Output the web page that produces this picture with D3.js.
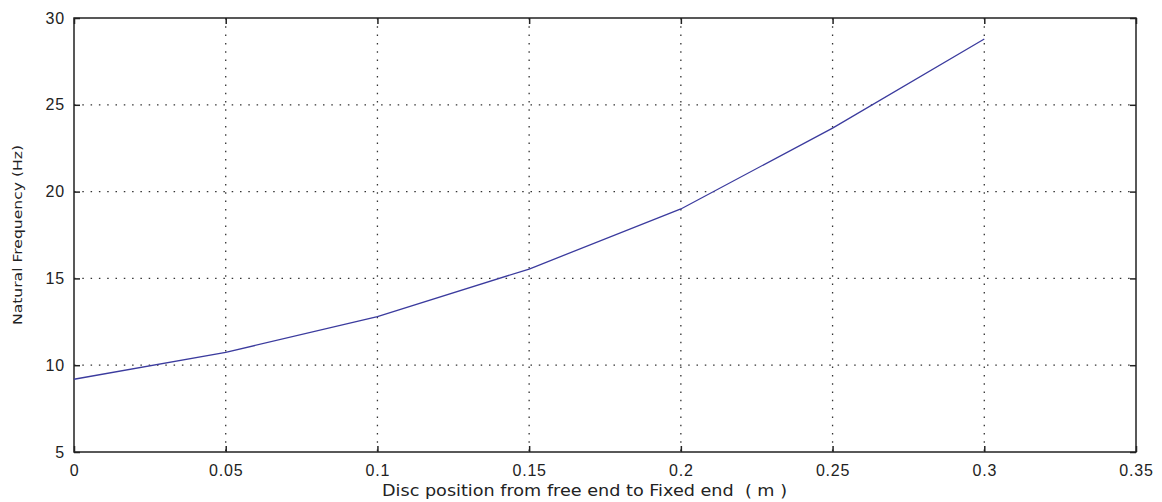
<!DOCTYPE html>
<html><head><meta charset="utf-8">
<script src="https://cdn.jsdelivr.net/npm/d3@7"></script>
<style>body{margin:0;background:#fff}svg{display:block}</style>
</head><body>
<svg id="c" width="1162" height="502"></svg>
<script>
const xPos = [0, 0.05, 0.1, 0.15, 0.2, 0.25, 0.3];
const freq = [9.19, 10.74, 12.8, 15.54, 19.0, 23.66, 28.79];
const xTicks = [0, 0.05, 0.1, 0.15, 0.2, 0.25, 0.3, 0.35];
const yTicks = [5, 10, 15, 20, 25, 30];
const xTitle = "Disc position from free end to Fixed end  ( m )";
const yTitle = "Natural Frequency (Hz)";

const L = 74, R = 1136, T = 18, B = 452;
const svg = d3.select("#c");
const x = d3.scaleLinear().domain([0, 0.35]).range([L, R]);
const y = d3.scaleLinear().domain([5, 30]).range([B, T]);
const font = "'DejaVu Sans', Arial, sans-serif";

// grid
const g = svg.append("g");
g.selectAll(".vg").data(xTicks.filter(d => d > 0 && d < 0.35)).join("line")
  .attr("x1", d => x(d)).attr("x2", d => x(d)).attr("y1", T).attr("y2", B)
  .attr("stroke", "#333").attr("stroke-width", 1.3).attr("stroke-dasharray", "1.5,6.8");
g.selectAll(".hg").data(yTicks.filter(d => d > 5 && d < 30)).join("line")
  .attr("x1", L).attr("x2", R).attr("y1", d => y(d)).attr("y2", d => y(d))
  .attr("stroke", "#333").attr("stroke-width", 1.3).attr("stroke-dasharray", "1.5,6.8");

// axes (inward ticks on all sides)
const ax = svg.append("g").attr("font-family", font);
ax.append("g").attr("transform", `translate(0,${B})`)
  .call(d3.axisBottom(x).tickValues(xTicks).tickSize(-6).tickPadding(13).tickFormat(d => String(+d.toFixed(2))));
ax.append("g").attr("transform", `translate(0,${T})`)
  .call(d3.axisTop(x).tickValues(xTicks).tickSize(-6).tickFormat(""));
ax.append("g").attr("transform", `translate(${L},0)`)
  .call(d3.axisLeft(y).tickValues(yTicks).tickSize(-6).tickPadding(9));
ax.append("g").attr("transform", `translate(${R},0)`)
  .call(d3.axisRight(y).tickValues(yTicks).tickSize(-6).tickFormat(""));
ax.selectAll(".domain").remove();
ax.selectAll(".tick line").attr("stroke", "#222").attr("stroke-width", 1.5);
ax.selectAll(".tick text").attr("font-size", 16).attr("fill", "#222").attr("letter-spacing", 0.8);

svg.append("rect").attr("x", L).attr("y", T).attr("width", R - L).attr("height", B - T)
  .attr("fill", "none").attr("stroke", "#222").attr("stroke-width", 1.5);

// line
svg.append("path").datum(xPos.map((d, i) => [d, freq[i]]))
  .attr("fill", "none").attr("stroke", "#3b3b9e").attr("stroke-width", 1.3)
  .attr("d", d3.line().x(d => x(d[0])).y(d => y(d[1])));

// titles
svg.append("text").attr("x", 382).attr("y", 496)
  .attr("font-family", font).attr("font-size", 16).attr("fill", "#222")
  .attr("textLength", 405).attr("lengthAdjust", "spacingAndGlyphs")
  .attr("xml:space", "preserve").text(xTitle);
svg.append("text").attr("transform", `translate(22,${(T + B) / 2}) rotate(-90)`)
  .attr("text-anchor", "middle").attr("font-family", font).attr("font-size", 13).attr("fill", "#222")
  .attr("textLength", 180).attr("lengthAdjust", "spacingAndGlyphs")
  .text(yTitle);
</script>
</body></html>
